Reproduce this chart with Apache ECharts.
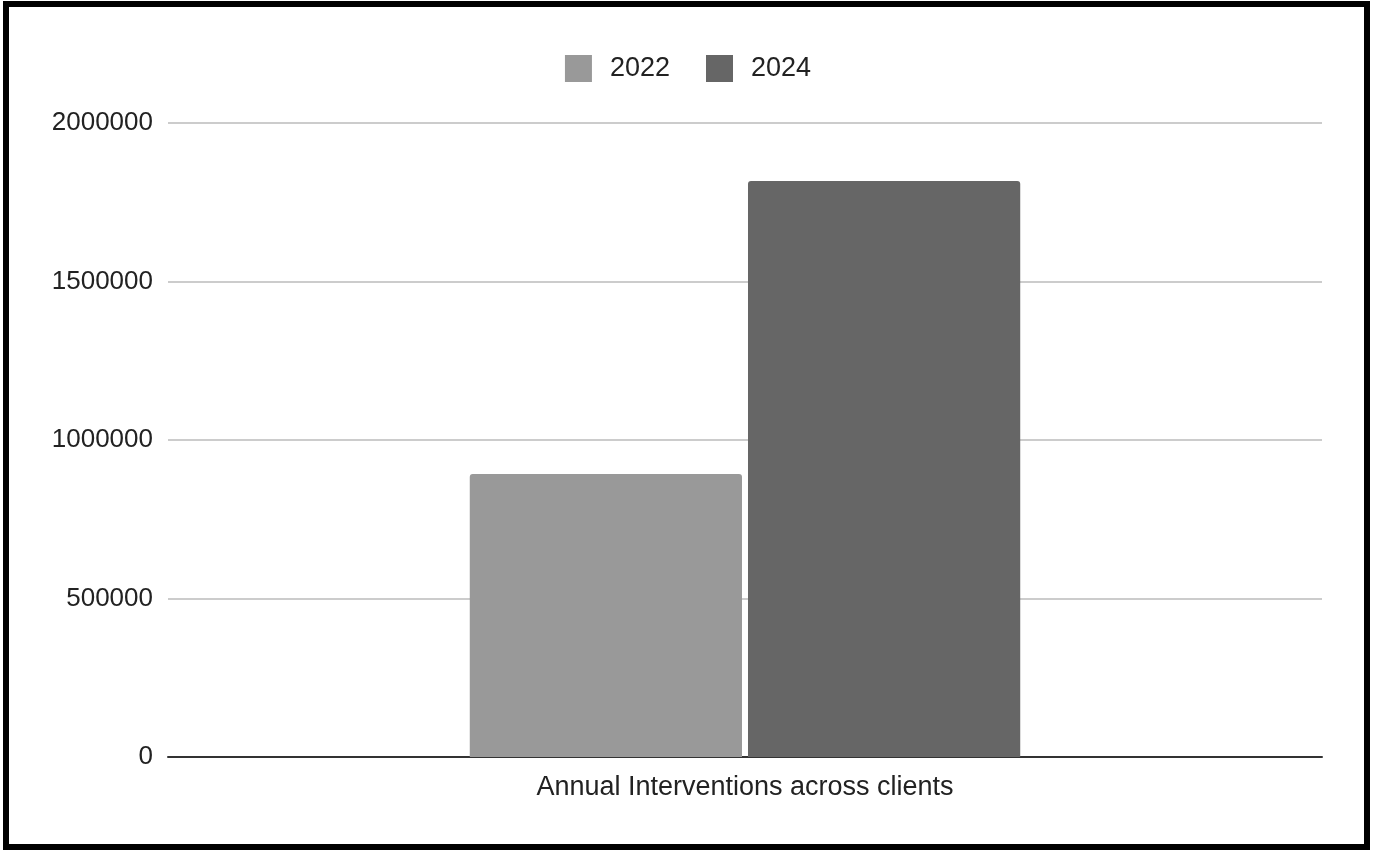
<!DOCTYPE html>
<html>
<head>
<meta charset="utf-8">
<script src="https://cdn.jsdelivr.net/npm/echarts@6/dist/echarts.min.js"></script>
<style>
html,body{margin:0;padding:0;background:#fff;}
#chart{position:absolute;left:0;top:0;width:1376px;height:854px;}
#frame{position:absolute;left:3px;top:1px;width:1355px;height:837px;border:6px solid #000;pointer-events:none;}
</style>
</head>
<body>
<div id="chart"></div>
<div id="frame"></div>
<script>
const categories = ['Annual Interventions across clients'];
const seriesNames = ['2022', '2024'];
const values2022 = [893000];
const values2024 = [1817000];
const yTicks = [0, 500000, 1000000, 1500000, 2000000];

const font = '"Liberation Sans", Arial, sans-serif';
const chart = echarts.init(document.getElementById('chart'));
chart.setOption({
  animation: false,
  textStyle: { fontFamily: font },
  legend: {
    top: 50,
    left: 'center',
    itemWidth: 27,
    itemHeight: 27,
    itemGap: 36,
    icon: 'rect',
    data: seriesNames,
    textStyle: { fontSize: 27, color: '#222', fontFamily: font, padding: [0, 0, 0, 13] }
  },
  grid: { left: 168, right: 54, top: 123, bottom: 97, containLabel: false },
  xAxis: {
    type: 'category',
    data: categories,
    axisTick: { show: false },
    axisLine: { lineStyle: { color: '#333', width: 2 } },
    axisLabel: { fontSize: 27, color: '#222', margin: 17, fontFamily: font }
  },
  yAxis: {
    type: 'value',
    min: yTicks[0],
    max: yTicks[yTicks.length - 1],
    interval: yTicks[1] - yTicks[0],
    axisLine: { show: false },
    axisTick: { show: false },
    splitLine: { lineStyle: { color: '#cccccc', width: 2 } },
    axisLabel: { fontSize: 26, color: '#222', margin: 15, fontFamily: font, formatter: v => String(v), padding: [3, 0, 0, 0] }
  },
  series: [
    { name: seriesNames[0], type: 'bar', data: values2022, itemStyle: { color: '#999999', borderRadius: [3,3,0,0] }, barGap: '2.2%', barCategoryGap: '52.3%' },
    { name: seriesNames[1], type: 'bar', data: values2024, itemStyle: { color: '#666666', borderRadius: [3,3,0,0] }, barGap: '2.2%', barCategoryGap: '52.3%' }
  ]
});
</script>
</body>
</html>
